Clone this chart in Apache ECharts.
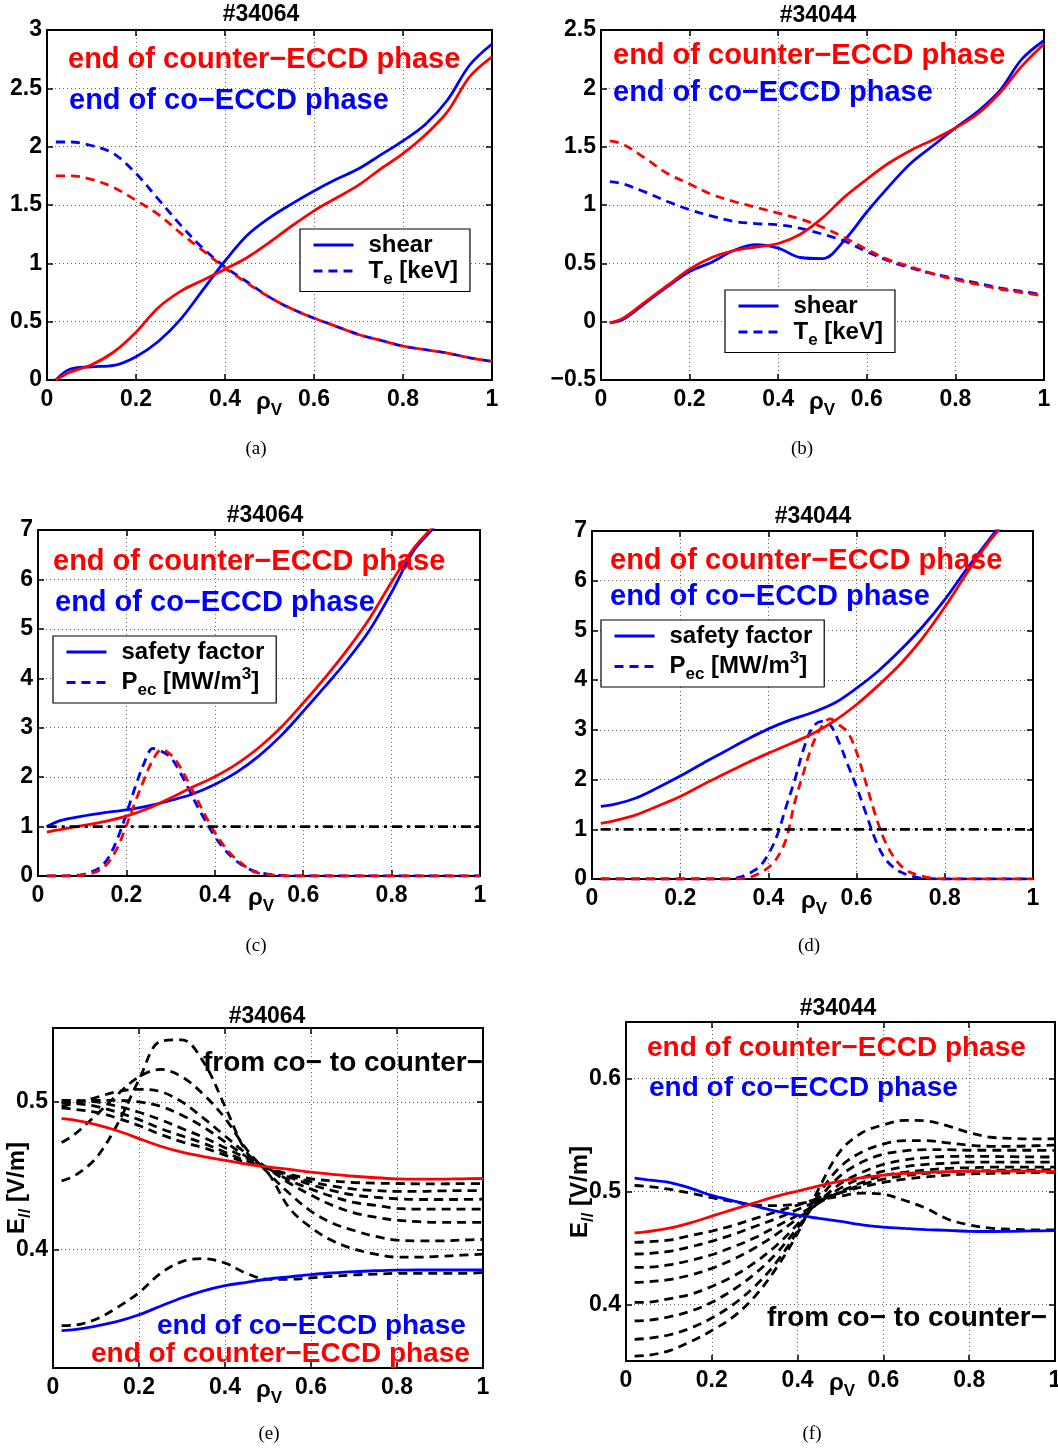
<!DOCTYPE html>
<html><head><meta charset="utf-8">
<script src="https://cdn.jsdelivr.net/npm/echarts@6/dist/echarts.min.js"></script>
<style>html,body{margin:0;padding:0;background:#fff}#c{width:1058px;height:1450px}</style>
</head><body><div id="c"></div><script>
// ---------- data ----------
const rho = [0.02,0.05,0.1,0.15,0.2,0.25,0.3,0.35,0.4,0.45,0.5,0.55,0.6,0.65,0.7,0.75,0.8,0.85,0.9,0.95,1.0];
const rhoQ = [0.02,0.05,0.1,0.15,0.2,0.25,0.3,0.35,0.4,0.45,0.5,0.55,0.6,0.65,0.7,0.75,0.8,0.85,0.9,0.95];

// (a) #34064 shear & Te
const shearCoA  = [0.0,0.09,0.113,0.125,0.2,0.33,0.52,0.77,1.02,1.24,1.39,1.51,1.62,1.72,1.81,1.93,2.05,2.19,2.40,2.70,2.88];
const shearCtrA = [0.0,0.065,0.13,0.24,0.41,0.62,0.76,0.855,0.95,1.05,1.18,1.32,1.45,1.56,1.67,1.81,1.94,2.10,2.30,2.60,2.77];
const teCoA  = [2.04,2.04,2.01,1.94,1.77,1.55,1.33,1.13,0.97,0.84,0.71,0.61,0.53,0.46,0.39,0.34,0.29,0.26,0.23,0.19,0.16];
const teCtrA = [1.75,1.75,1.72,1.65,1.54,1.42,1.26,1.11,0.96,0.83,0.71,0.61,0.53,0.46,0.39,0.34,0.29,0.26,0.23,0.19,0.16];

// (b) #34044 shear & Te
const shearCoB  = [-0.01,0.02,0.16,0.30,0.43,0.51,0.61,0.66,0.63,0.55,0.54,0.70,0.94,1.16,1.36,1.51,1.66,1.80,1.98,2.25,2.41];
const shearCtrB = [-0.01,0.03,0.17,0.31,0.45,0.55,0.61,0.64,0.67,0.75,0.89,1.07,1.22,1.36,1.47,1.56,1.66,1.78,1.96,2.19,2.38];
const teCoB  = [1.20,1.18,1.11,1.03,0.96,0.905,0.86,0.84,0.83,0.80,0.75,0.69,0.60,0.52,0.46,0.41,0.37,0.33,0.29,0.26,0.23];
const teCtrB = [1.55,1.52,1.40,1.27,1.18,1.09,1.03,0.98,0.93,0.88,0.81,0.72,0.62,0.53,0.47,0.41,0.36,0.32,0.28,0.25,0.22];

// (c) #34064 safety factor & Pec
const qCoC  = [1.0,1.12,1.21,1.28,1.34,1.42,1.53,1.66,1.85,2.10,2.43,2.84,3.33,3.84,4.37,4.97,5.74,6.58,7.1,7.8];
const qCtrC = [0.89,0.94,1.02,1.10,1.21,1.37,1.58,1.80,2.01,2.27,2.60,3.01,3.50,4.02,4.58,5.21,5.95,6.63,7.15,7.9];
const pecRhoC = [0.02,0.05,0.08,0.1,0.12,0.14,0.16,0.18,0.2,0.22,0.24,0.26,0.28,0.3,0.32,0.34,0.36,0.38,0.4,0.42,0.44,0.46,0.48,0.5,0.55,0.6,0.7,0.8,0.9,1.0];
const pecCoC  = [0,0,0.01,0.03,0.08,0.17,0.38,0.76,1.26,1.80,2.28,2.58,2.52,2.40,2.12,1.78,1.42,1.10,0.80,0.56,0.37,0.23,0.13,0.07,0.01,0,0,0,0,0];
const pecCtrC = [0,0,0,0.02,0.05,0.12,0.28,0.58,1.02,1.50,1.95,2.35,2.56,2.46,2.23,1.90,1.55,1.20,0.88,0.62,0.41,0.26,0.12,0.06,0.01,0,0,0,0,0];

// (d) #34044 safety factor & Pec
const qCoD  = [1.46,1.50,1.63,1.84,2.07,2.32,2.56,2.80,3.02,3.20,3.35,3.54,3.84,4.19,4.61,5.08,5.62,6.24,6.82,7.4];
const qCtrD = [1.12,1.17,1.29,1.47,1.66,1.89,2.11,2.33,2.53,2.72,2.92,3.18,3.51,3.90,4.33,4.85,5.47,6.15,6.78,7.3];
const pecRhoD = [0.02,0.1,0.2,0.3,0.32,0.34,0.36,0.38,0.4,0.42,0.44,0.46,0.48,0.5,0.52,0.54,0.56,0.58,0.6,0.62,0.64,0.66,0.68,0.7,0.72,0.74,0.76,0.8,0.9,1.0];
const pecCoD  = [0,0,0,0,0.01,0.05,0.13,0.25,0.50,0.88,1.45,2.0,2.62,3.05,3.17,3.10,2.75,2.30,1.85,1.35,0.85,0.47,0.26,0.14,0.07,0.03,0.01,0,0,0];
const pecCtrD = [0,0,0,0,0,0.01,0.04,0.12,0.23,0.43,0.80,1.55,2.15,2.70,3.05,3.22,3.10,2.95,2.55,1.97,1.36,0.85,0.50,0.27,0.14,0.08,0.03,0,0,0];

// q = 1 reference
const refX = [0.02,1.0];
const refY = [1,1];

// (e) #34064 E_par
const eCoE  = [0.3453,0.3460,0.3484,0.3515,0.3560,0.3618,0.3675,0.3722,0.3757,0.3780,0.3802,0.3817,0.3832,0.3843,0.3852,0.3858,0.3862,0.3863,0.3863,0.3863,0.3863];
const eCtrE = [0.4887,0.4877,0.4847,0.4805,0.4752,0.4700,0.4660,0.4630,0.4605,0.4580,0.4560,0.4543,0.4525,0.4510,0.4497,0.4487,0.4480,0.4478,0.4478,0.4480,0.4482];
const eTransE = [
  [0.3487,0.349,0.353,0.361,0.371,0.384,0.392,0.394,0.391,0.384,0.380,0.380,0.381,0.382,0.383,0.3835,0.384,0.384,0.384,0.384,0.3845],
  [0.4466,0.450,0.462,0.485,0.515,0.541,0.542,0.527,0.497,0.466,0.452,0.428,0.415,0.406,0.4005,0.397,0.395,0.395,0.3955,0.3963,0.397],
  [0.4725,0.478,0.491,0.505,0.517,0.522,0.517,0.505,0.489,0.468,0.452,0.438,0.426,0.418,0.413,0.409,0.4065,0.406,0.406,0.4065,0.407],
  [0.497,0.499,0.503,0.507,0.5085,0.507,0.500,0.489,0.477,0.465,0.455,0.445,0.437,0.430,0.425,0.422,0.420,0.419,0.4185,0.4185,0.4185],
  [0.499,0.500,0.501,0.501,0.500,0.497,0.491,0.483,0.473,0.463,0.455,0.447,0.441,0.436,0.432,0.430,0.428,0.4275,0.4275,0.4275,0.4275],
  [0.501,0.501,0.500,0.497,0.493,0.488,0.482,0.476,0.469,0.462,0.455,0.449,0.444,0.440,0.437,0.4355,0.4345,0.434,0.434,0.434,0.4342],
  [0.500,0.499,0.497,0.493,0.488,0.482,0.477,0.472,0.466,0.460,0.455,0.450,0.446,0.443,0.441,0.440,0.4395,0.4395,0.4398,0.440,0.440],
  [0.496,0.495,0.493,0.489,0.484,0.478,0.473,0.469,0.464,0.459,0.455,0.451,0.448,0.4465,0.4455,0.445,0.4448,0.4446,0.4446,0.4447,0.4448]
];

// (f) #34044 E_par
const eCoF  = [0.5118,0.5103,0.5080,0.5030,0.4965,0.4918,0.4872,0.4826,0.4790,0.4762,0.4735,0.4705,0.4685,0.4673,0.4663,0.4656,0.4648,0.4646,0.4648,0.4651,0.4654];
const eCtrF = [0.4633,0.4645,0.4675,0.4723,0.4782,0.4842,0.4900,0.4957,0.5004,0.5050,0.5092,0.5122,0.5145,0.5160,0.5168,0.5175,0.5179,0.5180,0.5180,0.5179,0.5178];
const eTransF = [
  [0.5053,0.5045,0.5020,0.4985,0.4945,0.4910,0.4880,0.4875,0.4890,0.4925,0.4960,0.4985,0.4975,0.4920,0.4850,0.4755,0.4705,0.4675,0.4665,0.4660,0.4660],
  [0.3544,0.355,0.359,0.367,0.377,0.389,0.407,0.432,0.463,0.503,0.536,0.552,0.559,0.563,0.5625,0.558,0.552,0.548,0.547,0.5465,0.5467],
  [0.3692,0.370,0.373,0.379,0.388,0.400,0.416,0.437,0.465,0.498,0.522,0.535,0.542,0.545,0.545,0.543,0.541,0.540,0.540,0.5405,0.541],
  [0.3855,0.386,0.389,0.394,0.402,0.413,0.427,0.445,0.468,0.494,0.514,0.526,0.533,0.536,0.537,0.537,0.5365,0.5365,0.5365,0.5365,0.5364],
  [0.4018,0.402,0.405,0.409,0.416,0.425,0.437,0.452,0.471,0.491,0.507,0.517,0.524,0.528,0.530,0.531,0.531,0.531,0.5308,0.5306,0.5305],
  [0.4195,0.420,0.422,0.426,0.432,0.440,0.450,0.462,0.476,0.490,0.503,0.512,0.518,0.522,0.524,0.525,0.526,0.526,0.526,0.526,0.526],
  [0.4328,0.433,0.435,0.439,0.444,0.451,0.459,0.469,0.479,0.490,0.500,0.508,0.514,0.517,0.519,0.5205,0.521,0.5215,0.5215,0.5215,0.5216],
  [0.4447,0.445,0.447,0.451,0.456,0.462,0.469,0.476,0.484,0.492,0.499,0.506,0.511,0.514,0.516,0.5175,0.518,0.5185,0.519,0.519,0.5195],
  [0.455,0.4555,0.457,0.461,0.465,0.470,0.476,0.482,0.488,0.494,0.499,0.504,0.508,0.511,0.513,0.5145,0.5155,0.516,0.5165,0.5168,0.517]
];

const titles = ['#34064','#34044','#34064','#34044','#34064','#34044'];
const captions = ['(a)','(b)','(c)','(d)','(e)','(f)'];
const txtCounter = 'end of counter\u2212ECCD phase';
const txtCo = 'end of co\u2212ECCD phase';
const txtFrom = 'from co\u2212 to counter\u2212';

// ---------- layout / style ----------
const FONT = '"Liberation Sans", Arial, Helvetica, sans-serif';
const SERIF = '"Liberation Serif", "DejaVu Serif", serif';
const RED = '#ff0000', BLUE = '#0000ff', BLACK = '#000000';
const grids = [
  {left:47, top:30, width:445, height:350},
  {left:601, top:30, width:443, height:350},
  {left:38, top:530, width:442, height:346},
  {left:592, top:531, width:441, height:348},
  {left:53, top:1028, width:430, height:340},
  {left:626, top:1022, width:429, height:339}
];
const yCfg = [
  {min:0, max:3, interval:0.5},
  {min:-0.5, max:2.5, interval:0.5},
  {min:0, max:7, interval:1},
  {min:0, max:7, interval:1},
  {min:0.32, max:0.55, custom:[0.4,0.5]},
  {min:0.35, max:0.65, custom:[0.4,0.5,0.6]}
];
const richSub = {
  b:{fontFamily:FONT, fontWeight:'bold', fontSize:24, color:'#000'},
  s:{fontFamily:FONT, fontWeight:'bold', fontSize:17, color:'#000', padding:[16,0,0,0]},
  p:{fontFamily:FONT, fontWeight:'bold', fontSize:17, color:'#000', padding:[0,0,16,0]}
};
const fmtNum = v => (v < 0 ? '\u2212' + (+(-v).toFixed(2)) : String(+v.toFixed(2)));

const xAxis = [], yAxis = [];
grids.forEach((g, i) => {
  xAxis.push({
    type:'value', gridIndex:i, min:0, max:1, interval:0.2, position:'bottom',
    axisLine:{onZero:false, lineStyle:{color:'#000', width:2}},
    axisTick:{inside:true, length:6, lineStyle:{color:'#000', width:1.5}},
    axisLabel:{color:'#000', fontFamily:FONT, fontWeight:'bold', fontSize:23, margin:8, formatter:fmtNum},
    splitLine:{show:true, lineStyle:{color:'#666', type:[1,3], width:1}}
  });
  xAxis.push({
    type:'value', gridIndex:i, min:0, max:1, interval:0.2, position:'top',
    axisLine:{onZero:false, lineStyle:{color:'#000', width:2}},
    axisTick:{inside:true, length:6, lineStyle:{color:'#000', width:1.5}},
    axisLabel:{show:false}, splitLine:{show:false}
  });
  const c = yCfg[i];
  const yMain = {
    type:'value', gridIndex:i, min:c.min, max:c.max, position:'left',
    axisLine:{onZero:false, lineStyle:{color:'#000', width:2}},
    axisTick:{inside:true, length:6, lineStyle:{color:'#000', width:1.5}},
    axisLabel:{color:'#000', fontFamily:FONT, fontWeight:'bold', fontSize:23, margin:5, formatter:fmtNum},
    splitLine:{show:true, lineStyle:{color:'#666', type:[1,3], width:1}}
  };
  const yMirror = {
    type:'value', gridIndex:i, min:c.min, max:c.max, position:'right',
    axisLine:{onZero:false, lineStyle:{color:'#000', width:2}},
    axisTick:{inside:true, length:6, lineStyle:{color:'#000', width:1.5}},
    axisLabel:{show:false}, splitLine:{show:false}
  };
  if (c.custom) {
    yMain.axisTick.customValues = c.custom; yMain.axisLabel.customValues = c.custom;
    yMirror.axisTick.customValues = c.custom;
  } else {
    yMain.interval = c.interval; yMirror.interval = c.interval;
  }
  yAxis.push(yMain, yMirror);
});

const series = [];
function addLine(p, name, xs, ys, color, dash, z) {
  series.push({
    type:'line', name, xAxisIndex:2*p, yAxisIndex:2*p,
    data: xs.map((x, k) => [x, ys[k]]),
    symbol:'none', showSymbol:false, smooth:0.35, silent:true, z: z || 2,
    lineStyle:{color, width:2.8, type: dash === 'dash' ? [9,6] : dash === 'dashdot' ? [10,5,3,5] : 'solid'},
    itemStyle:{color}, clip:true
  });
}
// (a)
addLine(0,'shear',rho,shearCoA,BLUE,'solid',3);
addLine(0,'Te',rho,teCoA,BLUE,'dash',3);
addLine(0,'shear ctr',rho,shearCtrA,RED,'solid',4);
addLine(0,'Te ctr',rho,teCtrA,RED,'dash',4);
// (b)
addLine(1,'shear',rho,shearCoB,BLUE,'solid',3);
addLine(1,'Te',rho,teCoB,BLUE,'dash',3);
addLine(1,'shear ctr',rho,shearCtrB,RED,'solid',4);
addLine(1,'Te ctr',rho,teCtrB,RED,'dash',4);
// (c)
addLine(2,'safety factor',rhoQ,qCoC,BLUE,'solid',3);
addLine(2,'Pec',pecRhoC,pecCoC,BLUE,'dash',3);
addLine(2,'q ctr',rhoQ,qCtrC,RED,'solid',4);
addLine(2,'Pec ctr',pecRhoC,pecCtrC,RED,'dash',4);
addLine(2,'q=1',refX,refY,BLACK,'dashdot',5);
// (d)
addLine(3,'safety factor',rhoQ,qCoD,BLUE,'solid',3);
addLine(3,'Pec',pecRhoD,pecCoD,BLUE,'dash',3);
addLine(3,'q ctr',rhoQ,qCtrD,RED,'solid',4);
addLine(3,'Pec ctr',pecRhoD,pecCtrD,RED,'dash',4);
addLine(3,'q=1',refX,refY,BLACK,'dashdot',5);
// (e)
eTransE.forEach((ys, k) => addLine(4,'trans e'+k,rho,ys,BLACK,'dash',2));
addLine(4,'E co e',rho,eCoE,BLUE,'solid',3);
addLine(4,'E ctr e',rho,eCtrE,RED,'solid',4);
// (f)
eTransF.forEach((ys, k) => addLine(5,'trans f'+k,rho,ys,BLACK,'dash',2));
addLine(5,'E co f',rho,eCoF,BLUE,'solid',3);
addLine(5,'E ctr f',rho,eCtrF,RED,'solid',4);

const legendFmt = n => n === 'Te' ? '{b|T}{s|e}{b| [keV]}' :
  n === 'Pec' ? '{b|P}{s|ec}{b| [MW/m}{p|3}{b|]}' : '{b|' + n + '}';
const legendBase = {
  orient:'vertical', backgroundColor:'#fff', borderColor:'#000', borderWidth:1.2, borderRadius:0,
  itemWidth:40, itemHeight:14, itemGap:2, padding:[4,12,4,12], selectedMode:false,
  itemStyle:{opacity:0}, lineStyle:{width:3}, formatter:legendFmt,
  textStyle:{rich:richSub, padding:[0,0,0,10], fontSize:24}
};
const legend = [
  Object.assign({}, legendBase, {left:300, top:229, data:['shear','Te']}),
  Object.assign({}, legendBase, {left:725, top:290, data:['shear','Te']}),
  Object.assign({}, legendBase, {left:53, top:636, data:['safety factor','Pec']}),
  Object.assign({}, legendBase, {left:601, top:620, data:['safety factor','Pec']})
];

function txt(x, y, text, color, size, align, family) {
  return {type:'text', x, y, z:100, silent:true,
    style:{text, fill:color, font:'bold ' + size + 'px ' + (family || FONT),
      textAlign:align || 'left', textVerticalAlign:'middle', align:align || 'left', verticalAlign:'middle'}};
}
function plain(x, y, text, size) {
  return {type:'text', x, y, z:100, silent:true,
    style:{text, fill:'#000', font:size + 'px ' + SERIF, textAlign:'center', textVerticalAlign:'middle', align:'center', verticalAlign:'middle'}};
}
function richTxt(x, y, text, rot) {
  return {type:'text', x, y, z:100, silent:true, rotation: rot || 0,
    style:{text, rich:richSub, fill:'#000', font:'bold 24px ' + FONT, align:'center', verticalAlign:'middle', textAlign:'center', textVerticalAlign:'middle'}};
}
const titlePos = [[261,15],[818,16],[265,516],[813,517],[267,1017],[838,1009]];
const capPos = [[256,449],[802,449],[256,946],[809,946],[269,1434],[812,1434]];
const rhoPos = [[269,402],[822,402],[261,898],[814,901],[269,1390],[842,1383]];
const graphic = [];
titles.forEach((t, i) => graphic.push(txt(titlePos[i][0], titlePos[i][1], t, '#000', 23, 'center')));
captions.forEach((t, i) => graphic.push(plain(capPos[i][0], capPos[i][1], t, 19)));
rhoPos.forEach(p => graphic.push(richTxt(p[0], p[1], '{b|\u03c1}{s|V}')));
graphic.push(richTxt(17, 1188, '{b|E}{s|//}{b| [V/m]}', Math.PI / 2));
graphic.push(richTxt(580, 1192, '{b|E}{s|//}{b| [V/m]}', Math.PI / 2));
graphic.push(
  txt(68, 60, txtCounter, RED, 29), txt(69, 101, txtCo, BLUE, 29),
  txt(613, 56, txtCounter, RED, 29), txt(613, 93, txtCo, BLUE, 29),
  txt(53, 562, txtCounter, RED, 29), txt(55, 603, txtCo, BLUE, 29),
  txt(610, 561, txtCounter, RED, 29), txt(610, 597, txtCo, BLUE, 29),
  txt(203, 1063, txtFrom, '#000', 28), txt(157, 1326, txtCo, BLUE, 28), txt(91, 1354, txtCounter, RED, 28),
  txt(647, 1048, txtCounter, RED, 28), txt(649, 1088, txtCo, BLUE, 28), txt(767, 1318, txtFrom, '#000', 28)
);

const chart = echarts.init(document.getElementById('c'), null, {renderer:'canvas', width:1058, height:1450});
chart.setOption({
  backgroundColor:'#fff', animation:false,
  grid: grids.map(g => Object.assign({containLabel:false, outerBoundsMode:'none', show:false}, g)),
  xAxis, yAxis, series, legend, graphic
});
</script></body></html>
